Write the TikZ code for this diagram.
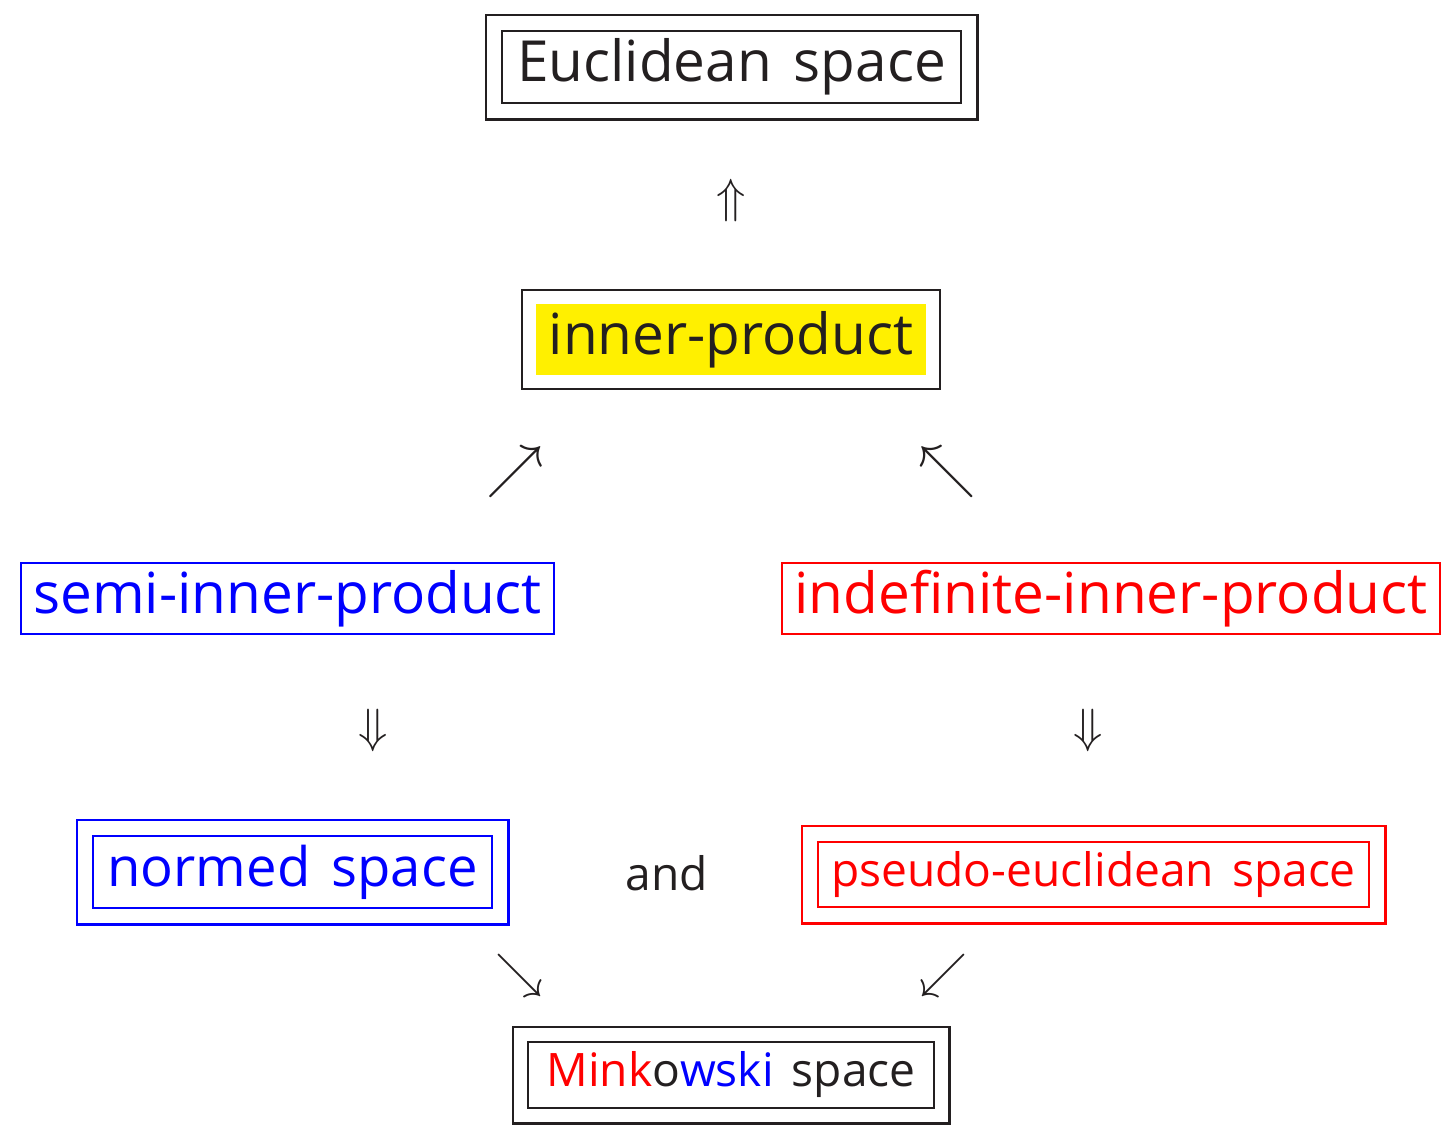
\documentclass[tikz,border=0pt]{standalone}
\usepackage{fontspec}
\setsansfont[WordSpace=1.5]{Open Sans}
\usetikzlibrary{fit}
\definecolor{ink}{HTML}{231F20}
\definecolor{hl}{HTML}{FFF000}
\definecolor{bl}{HTML}{0000FF}
\definecolor{rd}{HTML}{FF0000}
\newcommand{\bigf}{\sffamily\fontsize{20.4}{24}\selectfont}
\newcommand{\midf}{\sffamily\fontsize{16.6}{20}\selectfont}
\begin{document}
\begin{tikzpicture}[x=0.36pt,y=-0.36pt,font=\sffamily,
  lw/.style={line width=0.9pt},
  box/.style={lw,draw,inner sep=0pt,align=center},
  frame/.style={lw,draw,inner sep=#1},
  glyph/.style={inner sep=0pt,text=ink,font=\LARGE},
  dglyph/.style={inner sep=0pt,text=ink,font=\huge}]
\useasboundingbox (0,0) rectangle (1453,1132);
% Euclidean space
\node[box,draw=ink,text=ink,font=\bigf,minimum width=165.24pt,minimum height=25.92pt] (euc) at (731.5,67) {Euclidean space};
\node[frame=5.4pt,draw=ink,fit=(euc)] (eucO) {};
\node[glyph] (up) at (731,200) {$\Uparrow$};
% inner-product
\node[inner sep=0pt,fill=hl,text=ink,font=\bigf,minimum width=140.4pt,minimum height=25.56pt] (ip) at (731,339.5) {inner-product};
\node[frame=4.86pt,draw=ink,fit=(ip)] (ipO) {};
\node[dglyph] (ne) at (515,472) {$\nearrow$};
\node[dglyph] (nw) at (947,472) {$\nwarrow$};
% semi / indefinite
\node[box,draw=bl,text=bl,font=\bigf,minimum width=191.88pt,minimum height=25.56pt] (semi) at (287.5,598.5) {semi-inner-product};
\node[box,draw=rd,text=rd,font=\bigf,minimum width=236.88pt,minimum height=25.56pt] (indef) at (1111,598.5) {inde\mbox{f}\kern0pt inite-inner-product};
\node[glyph] (dl) at (373,730) {$\Downarrow$};
\node[glyph] (dr) at (1088,730) {$\Downarrow$};
% normed / pseudo
\node[box,draw=bl,text=bl,font=\sffamily\fontsize{19.6}{24}\selectfont,minimum width=143.64pt,minimum height=25.92pt] (norm) at (292.5,872) {normed space};
\node[frame=5.4pt,draw=bl,fit=(norm)] (normO) {};
\node[inner sep=0pt,text=ink,font=\midf] (and) at (667,873) {and};
\node[box,draw=rd,text=rd,font=\midf,minimum width=198.36pt,minimum height=23.4pt] (pse) at (1093.5,874.5) {pseudo-euclidean space};
\node[frame=5.4pt,draw=rd,fit=(pse)] (pseO) {};
\node[glyph] (se) at (519,975) {$\searrow$};
\node[glyph] (sw) at (943,975) {$\swarrow$};
% Minkowski
\node[box,draw=ink,text=ink,font=\midf,minimum width=146.16pt,minimum height=23.76pt] (mink) at (731,1075) {\textcolor{rd}{Mink}o\textcolor{bl}{wski} space};
\node[frame=5.04pt,draw=ink,fit=(mink)] (minkO) {};
\end{tikzpicture}
\end{document}
